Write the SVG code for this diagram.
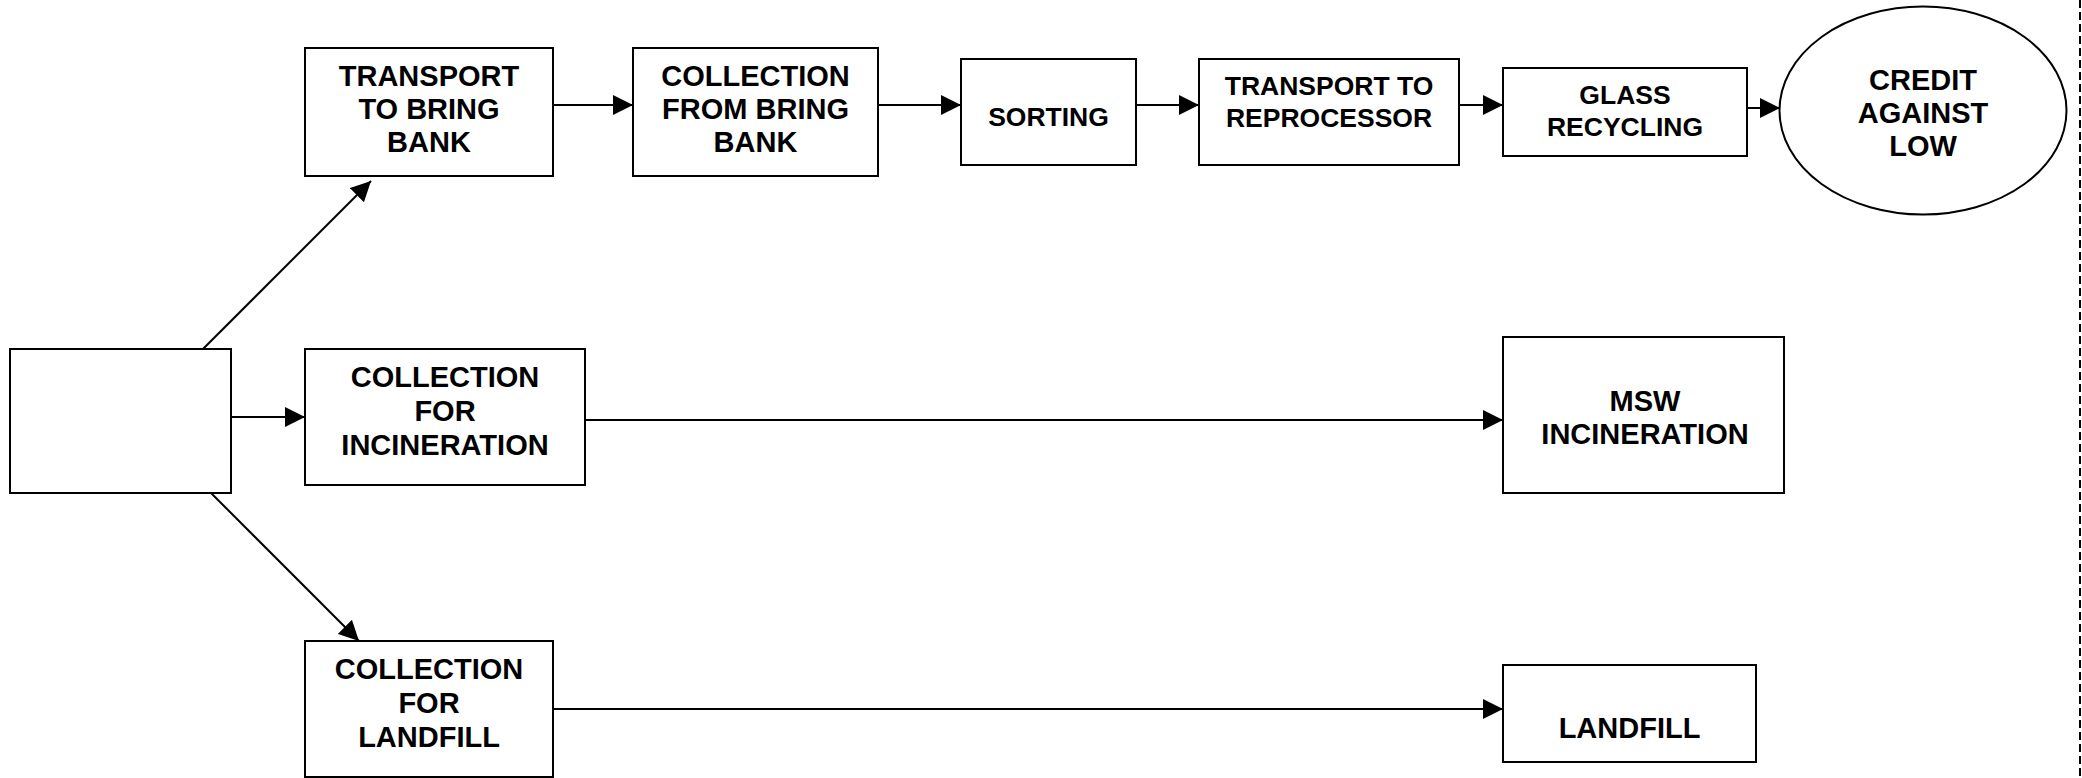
<svg xmlns="http://www.w3.org/2000/svg" width="2082" height="778" viewBox="0 0 2082 778">
  <defs>
    <marker id="arrow" markerUnits="userSpaceOnUse" markerWidth="20" markerHeight="20" refX="20" refY="10" orient="auto">
      <path d="M0,0 L20,10 L0,20 z" fill="#000"/>
    </marker>
    <style>
      .box { fill: #fff; stroke: #000; stroke-width: 2; }
      .lbl { font-family: "Liberation Sans", Arial, sans-serif; font-weight: bold; font-size: 29px; fill: #000; text-anchor: middle; }
      .sm { font-size: 26.5px; }
      .conn line { stroke: #000; stroke-width: 2; marker-end: url(#arrow); }
      .edge { stroke: #000; stroke-width: 2; stroke-dasharray: 8 4; }
    </style>
  </defs>
  <rect width="2082" height="778" fill="#fff"/>

  <!-- page edge on the right -->
  <line class="edge" x1="2080" y1="0" x2="2080" y2="778"/>

  <!-- connectors -->
  <g id="connectors" class="conn">
    <line x1="203" y1="349" x2="371" y2="181"/>
    <line x1="231" y1="417" x2="305" y2="417"/>
    <line x1="211" y1="493" x2="359" y2="641"/>
    <line x1="553" y1="105" x2="633" y2="105"/>
    <line x1="878" y1="105" x2="961" y2="105"/>
    <line x1="1136" y1="105" x2="1199" y2="105"/>
    <line x1="1459" y1="105" x2="1503" y2="105"/>
    <line x1="1747" y1="108" x2="1780" y2="108"/>
    <line x1="585" y1="420" x2="1503" y2="420"/>
    <line x1="553" y1="709" x2="1503" y2="709"/>
  </g>

  <g id="source">
    <rect class="box" x="10" y="349" width="221" height="144"/>
  </g>

  <g id="transport-bring-bank">
    <rect class="box" x="305" y="48" width="248" height="128"/>
    <text class="lbl" x="429" y="86">TRANSPORT</text>
    <text class="lbl" x="429" y="119">TO BRING</text>
    <text class="lbl" x="429" y="152">BANK</text>
  </g>

  <g id="collection-bring-bank">
    <rect class="box" x="633" y="48" width="245" height="128"/>
    <text class="lbl" x="755.5" y="86">COLLECTION</text>
    <text class="lbl" x="755.5" y="119">FROM BRING</text>
    <text class="lbl" x="755.5" y="152">BANK</text>
  </g>

  <g id="sorting">
    <rect class="box" x="961" y="59" width="175" height="106"/>
    <text class="lbl sm" x="1048.5" y="126">SORTING</text>
  </g>

  <g id="transport-reprocessor">
    <rect class="box" x="1199" y="59" width="260" height="106"/>
    <text class="lbl sm" x="1329" y="95">TRANSPORT TO</text>
    <text class="lbl sm" x="1329" y="127">REPROCESSOR</text>
  </g>

  <g id="glass-recycling">
    <rect class="box" x="1503" y="68" width="244" height="88"/>
    <text class="lbl sm" x="1625" y="104">GLASS</text>
    <text class="lbl sm" x="1625" y="136">RECYCLING</text>
  </g>

  <g id="credit">
    <ellipse class="box" cx="1923" cy="110.5" rx="143.5" ry="104"/>
    <text class="lbl" x="1923" y="90">CREDIT</text>
    <text class="lbl" x="1923" y="123">AGAINST</text>
    <text class="lbl" x="1923" y="156">LOW</text>
  </g>

  <g id="collection-incineration">
    <rect class="box" x="305" y="349" width="280" height="136"/>
    <text class="lbl" x="445" y="387">COLLECTION</text>
    <text class="lbl" x="445" y="421">FOR</text>
    <text class="lbl" x="445" y="455">INCINERATION</text>
  </g>

  <g id="msw-incineration">
    <rect class="box" x="1503" y="337" width="281" height="156"/>
    <text class="lbl" x="1645" y="411">MSW</text>
    <text class="lbl" x="1645" y="444">INCINERATION</text>
  </g>

  <g id="collection-landfill">
    <rect class="box" x="305" y="641" width="248" height="136"/>
    <text class="lbl" x="429" y="679">COLLECTION</text>
    <text class="lbl" x="429" y="713">FOR</text>
    <text class="lbl" x="429" y="747">LANDFILL</text>
  </g>

  <g id="landfill">
    <rect class="box" x="1503" y="665" width="253" height="97"/>
    <text class="lbl" x="1629.5" y="738">LANDFILL</text>
  </g>
</svg>
